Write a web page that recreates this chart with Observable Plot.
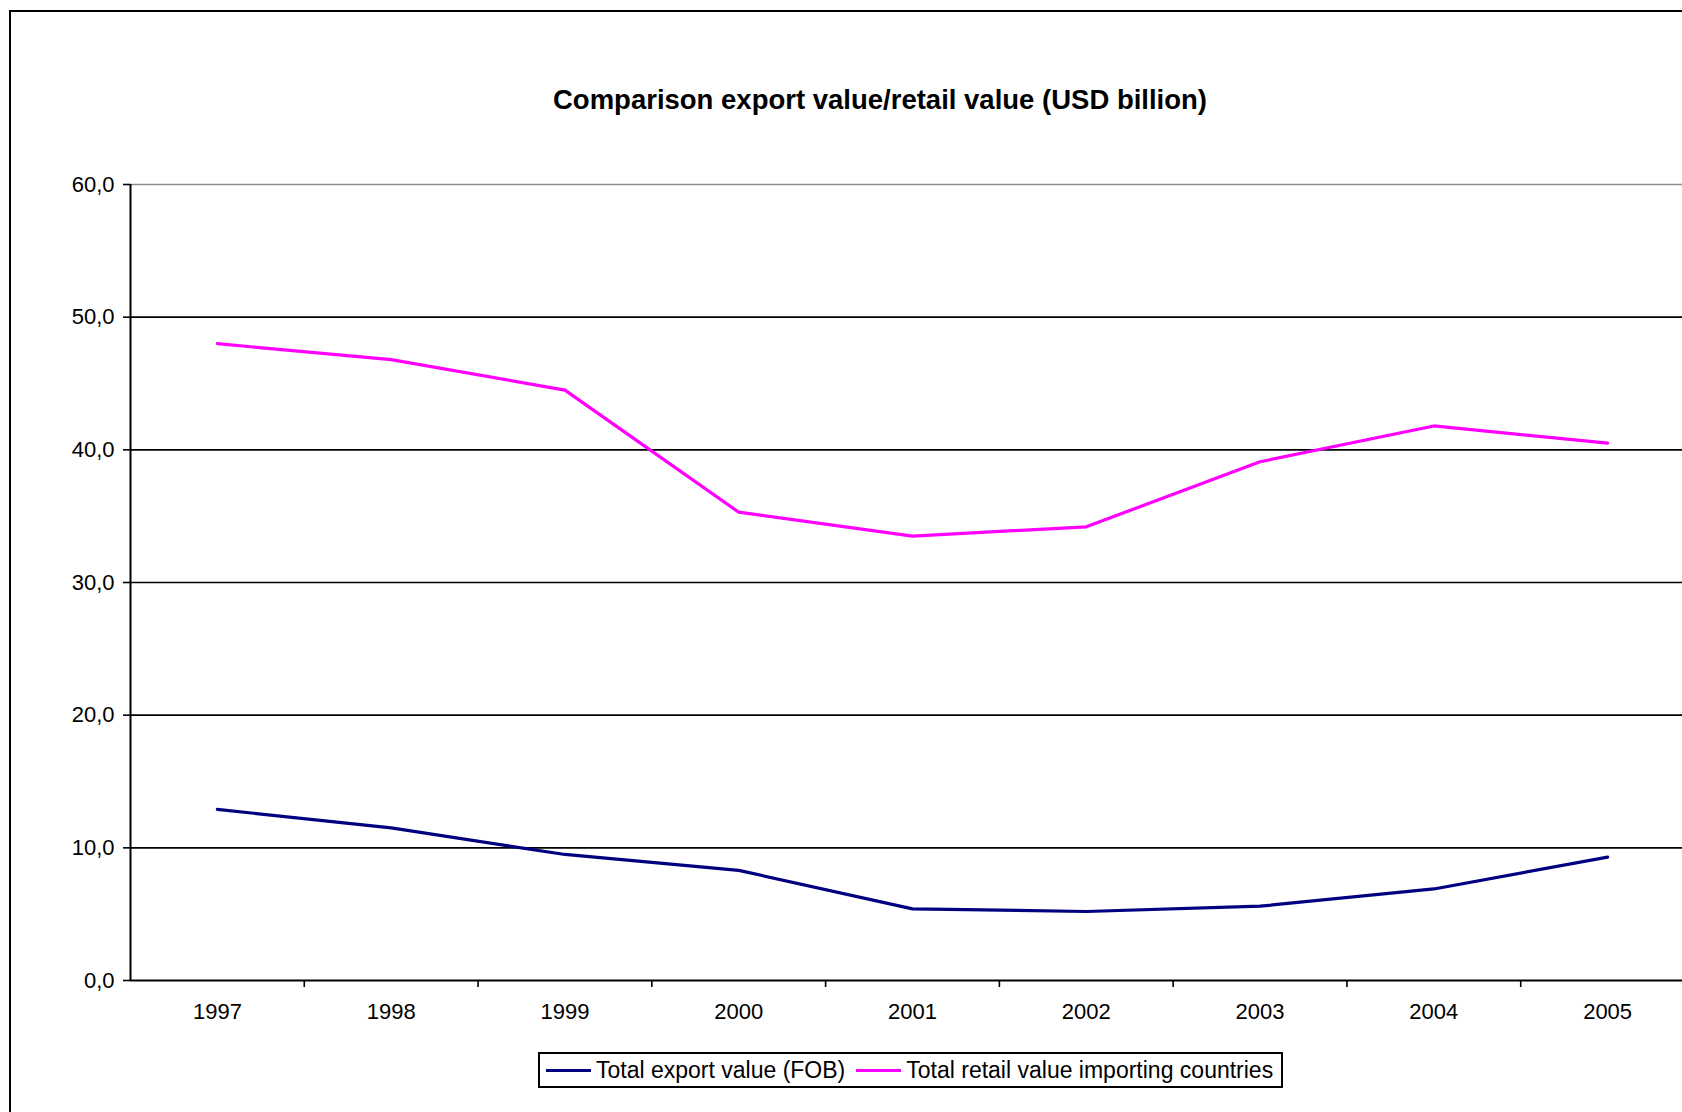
<!DOCTYPE html>
<html>
<head>
<meta charset="utf-8">
<script src="https://cdn.jsdelivr.net/npm/d3@7"></script>
<script src="https://cdn.jsdelivr.net/npm/@observablehq/plot@0.6"></script>
<style>
  html, body { margin: 0; padding: 0; background: #fff; }
  #page {
    position: relative; width: 1682px; height: 1112px; overflow: hidden;
    background: #fff; font-family: "Liberation Sans", Arial, Helvetica, sans-serif; color: #000;
  }
  #frame {
    position: absolute; left: 9px; top: 10px; right: -10px; bottom: -10px;
    border-left: 2px solid #000; border-top: 2px solid #000;
  }
  #title {
    position: absolute; top: 84px; left: 880px; transform: translateX(-50%);
    white-space: nowrap; font-weight: bold; font-size: 27.5px;
  }
  #chart { position: absolute; left: 0; top: 150px; }
  #legend {
    position: absolute; left: 538px; top: 1052px; height: 32px;
    border: 2px solid #000; display: flex; align-items: center;
    padding: 0 8px 0 6px; font-size: 23px; white-space: nowrap;
  }
  #legend .sw { display: inline-block; width: 45px; height: 3px; margin-right: 5px; }
  #legend .item { display: flex; align-items: center; }
  #legend .item + .item { margin-left: 11px; }
</style>
</head>
<body>
<div id="page">
  <div id="frame"></div>
  <div id="title">Comparison export value/retail value (USD billion)</div>
  <div id="chart"></div>
  <div id="legend"></div>
</div>
<script>
// Years and values (USD billion)
const years = [1997, 1998, 1999, 2000, 2001, 2002, 2003, 2004, 2005];
const exportValue = [12.9, 11.5, 9.5, 8.3, 5.4, 5.2, 5.6, 6.9, 9.3];
const retailValue = [48.0, 46.8, 44.5, 35.3, 33.5, 34.2, 39.1, 41.8, 40.5];
const seriesNames = ["Total export value (FOB)", "Total retail value importing countries"];
const seriesColors = ["#000080", "#ff00ff"];
const yTicks = [0, 10, 20, 30, 40, 50, 60];

const exportRows = years.map((year, i) => ({year, value: exportValue[i]}));
const retailRows = years.map((year, i) => ({year, value: retailValue[i]}));
// category boundaries between years, where the x tick marks sit
const boundaries = years.map(y => y + 0.5);

const fmt = d => d.toFixed(1).replace(".", ",");

const chart = Plot.plot({
  width: 1682,
  height: 900,
  marginTop: 34,
  marginBottom: 70,
  marginLeft: 130,
  marginRight: 0,
  style: {fontFamily: "'Liberation Sans', Arial, Helvetica, sans-serif", fontSize: "22px", color: "#000", background: "transparent"},
  x: {type: "linear", domain: [1996.5, 2005.5], range: [130, 1694], label: null},
  y: {domain: [0, 60], label: null},
  marks: [
    Plot.ruleY(yTicks.filter(d => d > 0 && d < 60), {stroke: "#000", strokeWidth: 1.6}),
    Plot.ruleY([60], {stroke: "#8c8c8c", strokeWidth: 1.6}),
    Plot.axisY({ticks: yTicks, label: null, tickSize: 7, tickPadding: 9, tickFormat: fmt, strokeWidth: 1.6, fontSize: 22}),
    Plot.axisX({ticks: years, label: null, tickSize: 0, tickPadding: 23, tickFormat: d => String(d), fontSize: 22}),
    Plot.axisX({ticks: boundaries, label: null, tickSize: 7, tickFormat: () => "", strokeWidth: 1.6}),
    Plot.ruleY([0], {stroke: "#000", strokeWidth: 2}),
    Plot.ruleX([1996.5], {y1: 0, y2: 60, stroke: "#000", strokeWidth: 2}),
    Plot.line(exportRows, {x: "year", y: "value", stroke: seriesColors[0], strokeWidth: 3.2}),
    Plot.line(retailRows, {x: "year", y: "value", stroke: seriesColors[1], strokeWidth: 3.2})
  ]
});
document.getElementById("chart").appendChild(chart);

const legend = document.getElementById("legend");
seriesNames.forEach((name, i) => {
  const item = document.createElement("span");
  item.className = "item";
  const sw = document.createElement("span");
  sw.className = "sw";
  sw.style.background = seriesColors[i];
  const label = document.createElement("span");
  label.textContent = name;
  item.appendChild(sw);
  item.appendChild(label);
  legend.appendChild(item);
});
</script>
</body>
</html>
